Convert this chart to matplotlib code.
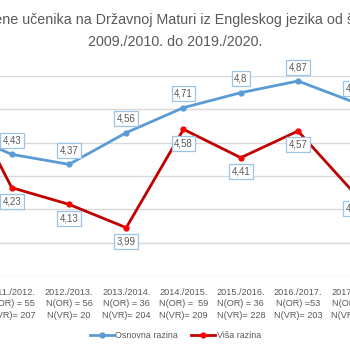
import matplotlib
matplotlib.use("Agg")
import matplotlib.pyplot as plt
from matplotlib.lines import Line2D

# ---- data ----
categories = ["2010./2011.", "2011./2012.", "2012./2013.", "2013./2014.",
              "2014./2015.", "2015./2016.", "2016./2017.", "2017./2018."]
n_or = ["N(OR) = 50", "N(OR) = 55", "N(OR) = 56", "N(OR) = 36",
        "N(OR) =  59", "N(OR) = 36", "N(OR) =53", "N(OR) = 40"]
n_vr = ["N(VR)= 200", "N(VR)= 207", "N(VR)= 20", "N(VR)= 204",
        "N(VR)= 209", "N(VR)= 228", "N(VR)= 203", "N(VR)= 200"]
osnovna = [4.58, 4.43, 4.37, 4.56, 4.71, 4.80, 4.87, 4.74]
visa = [4.90, 4.23, 4.13, 3.99, 4.58, 4.41, 4.57, 4.19]
y_ticks = [3.7, 3.9, 4.1, 4.3, 4.5, 4.7, 4.9]
title1 = "Prosječne ocjene učenika na Državnoj Maturi iz Engleskog jezika od školske godine"
title2 = "2009./2010. do 2019./2020."

plt.rcParams['font.family'] = ['Liberation Sans', 'DejaVu Sans']
TXT = '#595959'
BLUE = '#5B9BD5'
RED_L = '#C00000'
RED_M = '#FF0000'

fig = plt.figure(figsize=(3.5, 3.5), dpi=100)
fig.patch.set_facecolor('white')

ax = fig.add_axes([-0.2120, 0.2114, 1.3089, 0.5714])
ax.set_xlim(-0.5, len(categories) - 0.5)
ax.set_ylim(y_ticks[0], y_ticks[-1])
for s in ax.spines.values():
    s.set_visible(False)
ax.set_yticks(y_ticks)
ax.yaxis.grid(True, color='#D9D9D9', linewidth=1.0)
ax.set_axisbelow(True)
ax.tick_params(axis='y', left=False, labelleft=False)

x = list(range(len(categories)))
labels = [f"{c}\n{a}\n{b}" for c, a, b in zip(categories, n_or, n_vr)]
ax.set_xticks(x)
ax.set_xticklabels(labels, fontsize=6.6, color=TXT, linespacing=1.35)
ax.tick_params(axis='x', bottom=False, pad=5)

ax.plot(x, osnovna, color=BLUE, linewidth=2.0, marker='o', markersize=3.5,
        markerfacecolor=BLUE, markeredgecolor=BLUE, zorder=3, clip_on=False)
ax.plot(x, visa, color=RED_L, linewidth=2.0, marker='o', markersize=3.5,
        markerfacecolor=RED_M, markeredgecolor=RED_M, zorder=3, clip_on=False)

def fmt(v):
    return f"{v:g}".replace('.', ',')

bbox = dict(boxstyle='square,pad=0.25', facecolor='white', edgecolor='#9DC3E6', linewidth=0.9)
for xi, v in zip(x, osnovna):
    ax.annotate(fmt(v), (xi, v), xytext=(0, 10), textcoords='offset points',
                ha='center', va='center', fontsize=7, color=TXT, bbox=bbox, zorder=4)
for xi, v in zip(x, visa):
    ax.annotate(fmt(v), (xi, v), xytext=(0, -10), textcoords='offset points',
                ha='center', va='center', fontsize=7, color=TXT, bbox=bbox, zorder=4)

fig.text(0.5, 1 - 20 / 350, title1, ha='center', va='center', fontsize=10.3, color=TXT)
fig.text(0.5, 1 - 41.5 / 350, title2, ha='center', va='center', fontsize=10.3, color=TXT)

handles = [Line2D([], [], color=BLUE, linewidth=2.0, marker='o', markersize=3.5,
                  markerfacecolor=BLUE, markeredgecolor=BLUE),
           Line2D([], [], color=RED_L, linewidth=2.0, marker='o', markersize=3.5,
                  markerfacecolor=RED_M, markeredgecolor=RED_M)]
fig.legend(handles, ["Osnovna razina", "Viša razina"], loc='center',
           bbox_to_anchor=(0.501, 1 - 335.7 / 350), ncol=2, frameon=False,
           fontsize=6.4, handlelength=2.7, handletextpad=0.15, columnspacing=1.5,
           labelcolor=TXT)

fig.savefig("out.png", dpi=100, facecolor='white')
